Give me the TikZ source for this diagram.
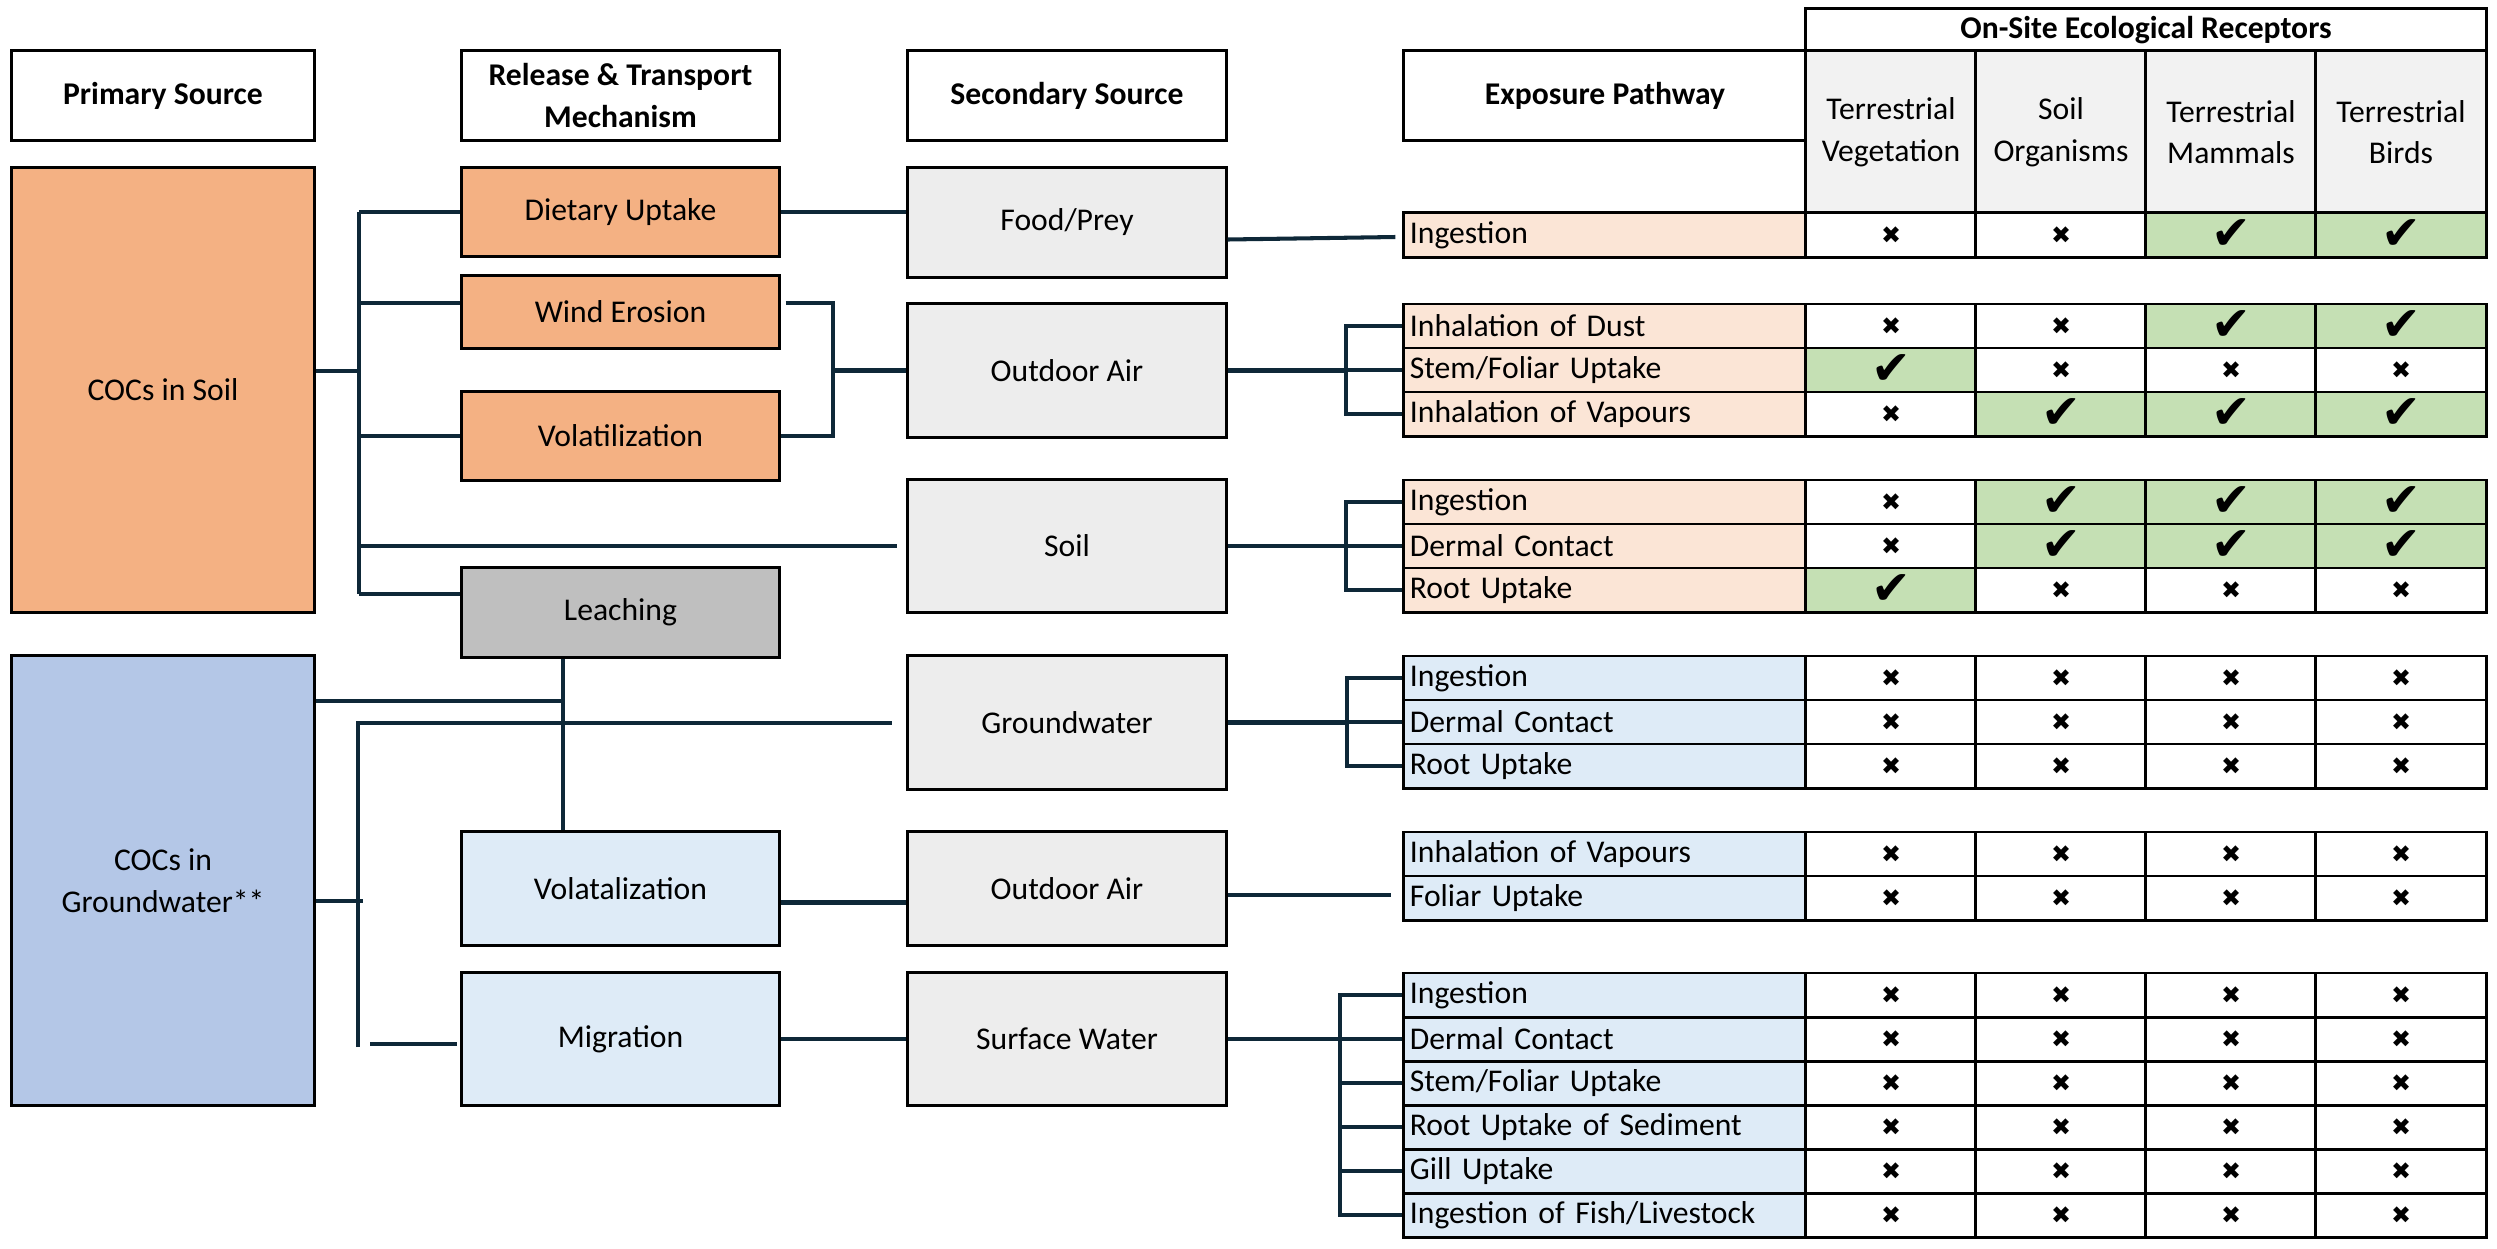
\documentclass[tikz,border=0pt]{standalone}
\usepackage{fontspec}
\setmainfont{Carlito}
\newfontfamily\symfont{DejaVu Sans}
\usetikzlibrary{calc}

\definecolor{srcorange}{HTML}{F4B183}
\definecolor{rowbeige}{HTML}{FBE5D6}
\definecolor{srcblue}{HTML}{B4C7E7}
\definecolor{rowblue}{HTML}{DEEBF7}
\definecolor{secgray}{HTML}{EDEDED}
\definecolor{leachgray}{HTML}{BFBFBF}
\definecolor{headgray}{HTML}{F2F2F2}
\definecolor{okgreen}{HTML}{C5E0B4}
\definecolor{linknavy}{RGB}{14,40,56}

\newcommand{\okmark}{{\symfont\fontsize{13.5}{14}\selectfont ✔}}
\newcommand{\nomark}{{\symfont\fontsize{6.8}{7}\selectfont ✖}}

% one row of the table: y, name, fill, pathway, marks
\newcommand{\prow}[5]{%
  \node[pcell, fill=#3] (#2) at (1605,#1) {#4};
  \foreach \m [count=\i] in {#5} {
    \ifnum\m=1 \def\fc{okgreen}\def\mk{\okmark}\else\def\fc{white}\def\mk{\nomark}\fi
    \node[rcell, fill=\fc] at ({1806+170*\i-85},#1) {\mk};
  }
}

\tikzset{
  every node/.style={font=\fontsize{9}{11.8}\selectfont},
  box/.style={draw=black, line width=0.85pt, align=center, inner sep=0pt},
  head/.style={box, fill=white, font=\fontsize{9}{11.8}\selectfont\bfseries},
  link/.style={draw=linknavy, line width=1.15pt},
  pcell/.style={box, text width=3.9cm, inner xsep=0.06cm, align=left, minimum height=0.44cm},
  rcell/.style={box, minimum width=1.7cm, minimum height=0.44cm},
  c1/.style={minimum width=3.02cm},
  c2/.style={minimum width=3.17cm},
  c3/.style={minimum width=3.18cm, fill=secgray},
}

\begin{document}
\begin{tikzpicture}[x=0.01cm, y=-0.01cm]
\useasboundingbox (0,0) rectangle (2497,1248);

% headers
\node[head, c1, minimum height=0.89cm] (h-prim) at (163,95.5) {Primary Source};
\node[head, c2, minimum height=0.89cm] (h-rel) at (620.5,95.5) {Release \& Transport\\Mechanism};
\node[head, c3, fill=white, minimum height=0.89cm] (h-sec) at (1067,95.5) {Secondary Source};
\node[head, minimum width=4.02cm, minimum height=0.89cm] (h-exp) at (1605,95.5) {Exposure Pathway};
\node[head, minimum width=6.8cm, minimum height=0.42cm] (h-rec) at (2146,30) {On-Site Ecological Receptors};
\foreach \t [count=\i] in {Terrestrial\\Vegetation, Soil\\Organisms, Terrestrial\\Mammals, Terrestrial\\Birds}
  \node[box, fill=headgray, minimum width=1.7cm, minimum height=1.62cm] (r\i) at ({1806+170*\i-85},132) {\t};

% primary sources
\node[box, c1, fill=srcorange, minimum height=4.44cm] (soilsrc) at (163,390) {COCs in Soil};
\node[box, c1, fill=srcblue, minimum height=4.49cm] (gwsrc) at (163,880.5) {COCs in\\Groundwater**};

% release and transport
\node[box, c2, fill=srcorange, minimum height=0.88cm] (dietary) at (620.5,212) {Dietary Uptake};
\node[box, c2, fill=srcorange, minimum height=0.72cm] (wind) at (620.5,312) {Wind Erosion};
\node[box, c2, fill=srcorange, minimum height=0.88cm] (volat) at (620.5,436) {Volatilization};
\node[box, c2, fill=leachgray, minimum height=0.89cm] (leach) at (620.5,612.5) {Leaching};
\node[box, c2, fill=rowblue, minimum height=1.13cm] (volat2) at (620.5,888.5) {Volatalization};
\node[box, c2, fill=rowblue, minimum height=1.32cm] (migr) at (620.5,1039) {Migration};

% secondary sources
\node[box, c3, minimum height=1.09cm] (food) at (1067,222.5) {Food/Prey};
\node[box, c3, minimum height=1.33cm] (oair) at (1067,370.5) {Outdoor Air};
\node[box, c3, minimum height=1.32cm] (soil) at (1067,546) {Soil};
\node[box, c3, minimum height=1.33cm] (gw) at (1067,722.5) {Groundwater};
\node[box, c3, minimum height=1.13cm] (oair2) at (1067,888.5) {Outdoor Air};
\node[box, c3, minimum height=1.32cm] (sw) at (1067,1039) {Surface Water};

% exposure table
\prow{235}{f1}{rowbeige}{Ingestion}{0,0,1,1}
\prow{326}{a1}{rowbeige}{Inhalation of Dust}{0,0,1,1}
\prow{370}{a2}{rowbeige}{Stem/Foliar Uptake}{1,0,0,0}
\prow{414}{a3}{rowbeige}{Inhalation of Vapours}{0,1,1,1}
\prow{502}{s1}{rowbeige}{Ingestion}{0,1,1,1}
\prow{546}{s2}{rowbeige}{Dermal Contact}{0,1,1,1}
\prow{590}{s3}{rowbeige}{Root Uptake}{1,0,0,0}
\prow{678}{g1}{rowblue}{Ingestion}{0,0,0,0}
\prow{722}{g2}{rowblue}{Dermal Contact}{0,0,0,0}
\prow{766}{g3}{rowblue}{Root Uptake}{0,0,0,0}
\prow{854}{v1}{rowblue}{Inhalation of Vapours}{0,0,0,0}
\prow{898}{v2}{rowblue}{Foliar Uptake}{0,0,0,0}
\prow{995}{w1}{rowblue}{Ingestion}{0,0,0,0}
\prow{1039}{w2}{rowblue}{Dermal Contact}{0,0,0,0}
\prow{1083}{w3}{rowblue}{Stem/Foliar Uptake}{0,0,0,0}
\prow{1127}{w4}{rowblue}{Root Uptake of Sediment}{0,0,0,0}
\prow{1171}{w5}{rowblue}{Gill Uptake}{0,0,0,0}
\prow{1215}{w6}{rowblue}{Ingestion of Fish/Livestock}{0,0,0,0}

% soil trunk
\coordinate (st) at (359,212);
\coordinate (sb) at (359,594);
\coordinate (sj) at (359,371);
\coordinate (sw1) at (359,303);
\draw[link] (st) -- (sb);
\draw[link] (soilsrc.east |- sj) -- (sj);
\draw[link] (st) -- (dietary.west);
\draw[link] (sw1) -- (sw1 -| wind.west);
\draw[link] (st |- volat.west) -- (volat.west);
\draw[link] (st |- soil.west) -- ($(soil.west)+(-9,0)$);
\draw[link] (sb) -- (sb -| leach.west);

% soil mechanisms to secondary sources
\draw[link] (dietary.east) -- (dietary.east -| food.west);
\coordinate (wa) at (833,303);
\draw[link] ($(wind.east |- wa)+(5,0)$) -- (wa) |- (volat.east);
\draw[link] (wa |- oair.west) -- (oair.west);

% leaching and groundwater trunk
\coordinate (lx) at (563,701);
\draw[link] (lx |- leach.south) -- (lx |- volat2.north);
\draw[link] (gwsrc.east |- lx) -- (lx);
\coordinate (gt) at (358,723);
\coordinate (gb) at (358,1047);
\coordinate (gj) at (363,901);
\draw[link] (gb) -- (gt) -- ($(gt -| gw.west)+(-14,0)$);
\draw[link] (gwsrc.east |- gj) -- (gj);
\draw[link] ($(migr.west)+(-90,5)$) -- ($(migr.west)+(-3,5)$);
\draw[link] ($(volat2.east)+(0,14)$) -- ($(oair2.west)+(0,14)$);
\draw[link] (migr.east) -- (sw.west);

% secondary sources to pathways
\draw[link] ($(food.east)+(0,17)$) -- ($(f1.west)+(-7,2)$);
\coordinate (ab) at (1346,0);
\draw[link] (oair.east) -- (ab |- oair.east);
\draw[link] (a1.west) -| (ab |- a3.west) -- (a3.west);
\draw[link] (ab |- a2.west) -- (a2.west);
\draw[link] (soil.east) -- (ab |- soil.east);
\draw[link] (s1.west) -| (ab |- s3.west) -- (s3.west);
\draw[link] (ab |- s2.west) -- (s2.west);
\coordinate (gbk) at (1347,0);
\draw[link] (gw.east) -- (gbk |- gw.east);
\draw[link] (g1.west) -| (gbk |- g3.west) -- (g3.west);
\draw[link] (gbk |- g2.west) -- (g2.west);
\coordinate (vend) at (1391,895);
\draw[link] (oair2.east |- vend) -- (vend);
\coordinate (wbk) at (1340,0);
\draw[link] (sw.east) -- (wbk |- sw.east);
\draw[link] (w1.west) -| (wbk |- w6.west) -- (w6.west);
\foreach \r in {w2,w3,w4,w5}
  \draw[link] (wbk |- \r.west) -- (\r.west);
\end{tikzpicture}
\end{document}
